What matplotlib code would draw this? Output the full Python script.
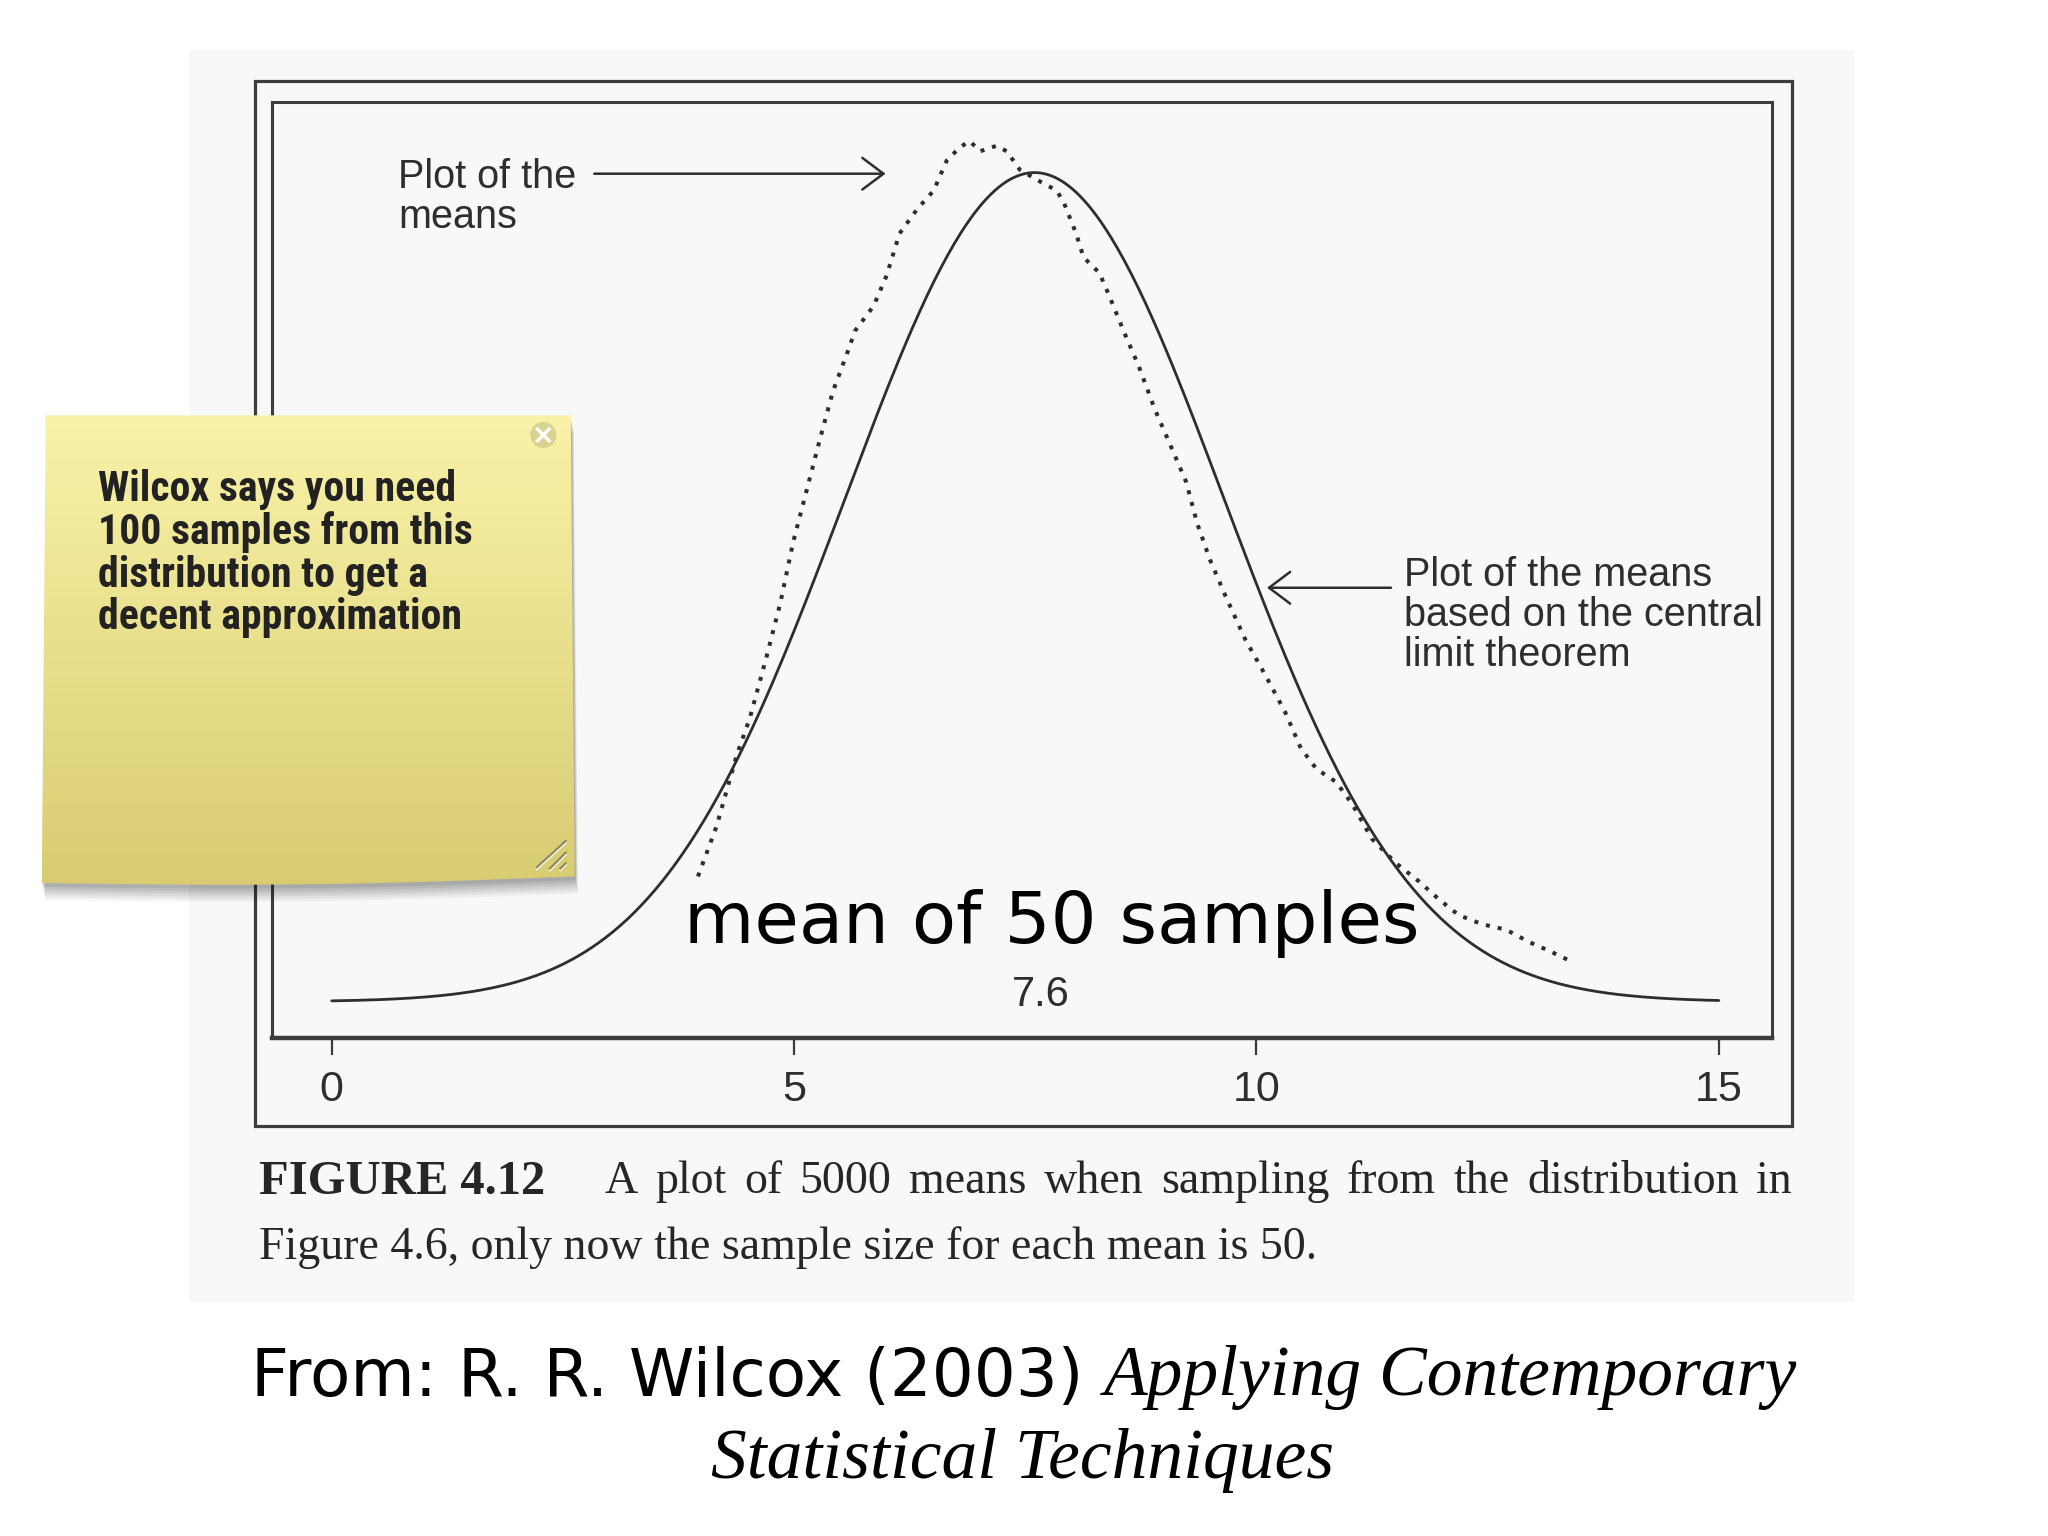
import numpy as np
import matplotlib.pyplot as plt
from matplotlib import font_manager
from matplotlib.patches import Rectangle, Polygon, Circle

# dotted curve: plot of the 5000 simulated means
mean_x = [3.96, 4.16, 4.38, 4.52, 4.70, 4.85, 4.99, 5.14, 5.28, 5.42,
          5.57, 5.66, 5.86, 6.00, 6.14, 6.33, 6.51, 6.65, 6.79, 6.90,
          7.01, 7.19, 7.30, 7.44, 7.66, 7.84, 7.92, 8.05, 8.13, 8.30,
          8.40, 8.56, 8.73, 8.90, 9.07, 9.24, 9.36, 9.50, 9.67, 9.88,
          10.10, 10.31, 10.48, 10.65, 10.86, 11.03, 11.25, 11.51, 11.76, 11.98,
          12.19, 12.44, 12.70, 12.96, 13.18, 13.39]
mean_y = [0.0294, 0.0411, 0.0579, 0.0665, 0.0808, 0.0935, 0.1079, 0.1204, 0.1321, 0.1433,
          0.1520, 0.1575, 0.1633, 0.1704, 0.1803, 0.1860, 0.1904, 0.1974, 0.2005, 0.2020,
          0.1996, 0.2009, 0.1996, 0.1953, 0.1925, 0.1904, 0.1874, 0.1803, 0.1747, 0.1711,
          0.1661, 0.1576, 0.1490, 0.1391, 0.1306, 0.1220, 0.1122, 0.1036, 0.0950, 0.0850,
          0.0765, 0.0680, 0.0595, 0.0546, 0.0516, 0.0466, 0.0382, 0.0325, 0.0282, 0.0239,
          0.0203, 0.0182, 0.0169, 0.0139, 0.0118, 0.0096]

# solid curve: normal curve from the central limit theorem
clt_mean = 7.6
clt_sd = 2.05
x_ticks = [0, 5, 10, 15]

note_lines = ["Wilcox says you need", "100 samples from this",
              "distribution to get a", "decent approximation"]
caption_1 = "A plot of 5000 means when sampling from the distribution in"
caption_2 = "Figure 4.6, only now the sample size for each mean is 50."

SANS = ['Liberation Sans', 'DejaVu Sans']
SERIF = ['Liberation Serif', 'DejaVu Serif']
INK = '#2e2e2e'

installed = {f.name for f in font_manager.fontManager.ttflist}
note_font = 'Liberation Sans'
for cand in ['Liberation Sans Narrow', 'Roboto Condensed', 'Open Sans Condensed', 'DejaVu Sans Condensed']:
    if cand in installed:
        note_font = cand
        break

fig = plt.figure(figsize=(20.48, 15.36), dpi=100)
fig.patch.set_facecolor('white')
renderer = fig.canvas.get_renderer()
SC = 2048 / 1568  # output pixels per reference-layout unit

# background layer, coordinates in reference pixels (1568 x 1176)
back = fig.add_axes([0, 0, 1, 1], zorder=0)
back.set_xlim(0, 1568)
back.set_ylim(1176, 0)
back.axis('off')
back.add_patch(Rectangle((145, 38), 1275, 959, facecolor='#f8f8f8', edgecolor='none'))
back.add_patch(Rectangle((195, 62), 1177, 800, facecolor='none', edgecolor='#3c3c3c', lw=2.3))

# the plot itself
ax = fig.add_axes([208 / 1568, 1 - 795 / 1176, (1357 - 208) / 1568, (795 - 78) / 1176], zorder=1)
ax.set_facecolor('none')
ax.set_xlim(-0.65, 15.58)
ax.set_ylim(-0.0086, 0.2112)

xs = np.linspace(0, 15, 400)
clt_y = np.exp(-0.5 * ((xs - clt_mean) / clt_sd) ** 2) / (clt_sd * np.sqrt(2 * np.pi))
ax.plot(xs, clt_y, color=INK, lw=2.0, solid_capstyle='round')
ax.plot(mean_x, mean_y, color=INK, lw=2.9, linestyle=(0, (1, 2.0)))

for s in ax.spines.values():
    s.set_color('#3c3c3c')
    s.set_linewidth(2.2)
ax.spines['bottom'].set_linewidth(3.2)
ax.set_xticks(x_ticks)
ax.set_xticklabels([str(t) for t in x_ticks])
ax.set_yticks([])
ax.tick_params(axis='x', direction='out', length=12, width=1.6, color='#3c3c3c',
               pad=11, labelsize=31, labelcolor=INK)
for lab in ax.get_xticklabels():
    lab.set_family(SANS)

# overlay layer for annotations and the sticky note
top = fig.add_axes([0, 0, 1, 1], zorder=2)
top.set_facecolor('none')
top.set_xlim(0, 1568)
top.set_ylim(1176, 0)
top.axis('off')

arrow = dict(arrowstyle='->,head_length=0.4,head_width=0.3', lw=1.8, color=INK,
             mutation_scale=38, shrinkA=0, shrinkB=0)
top.text(305, 151, "Plot of the\nmeans", family=SANS, fontsize=28.5, color=INK,
         va='center', ha='left', linespacing=1.07)
top.annotate('', xy=(678, 133), xytext=(455, 133), arrowprops=arrow)
top.text(1075, 471, "Plot of the means\nbased on the central\nlimit theorem", family=SANS,
         fontsize=28.5, color=INK, va='center', ha='left', linespacing=1.07)
top.annotate('', xy=(970, 450), xytext=(1065, 450), arrowprops=arrow)
top.text(797, 762, "7.6", family=SANS, fontsize=30, color=INK, ha='center', va='center')

top.text(805, 722, "mean of 50 samples", family=['DejaVu Sans'], fontsize=52,
         color='black', ha='center', va='baseline')

# caption, first line justified between the label and the right frame edge
top.text(198, 905, "FIGURE 4.12", family=SERIF, fontweight='bold', fontsize=35,
         color='#262626', ha='left', va='center')
words = caption_1.split()
w_txt = [top.text(0, 905, w, family=SERIF, fontsize=33, color='#262626', ha='left', va='center')
         for w in words]
widths = [t.get_window_extent(renderer).width / SC for t in w_txt]
gap = ((1372 - 463) - sum(widths)) / (len(words) - 1)
xpos = 463
for t, w in zip(w_txt, widths):
    t.set_x(xpos)
    xpos += w + gap
top.text(198, 955, caption_2, family=SERIF, fontsize=33, color='#262626', ha='left', va='center')

# source line
top.text(192, 1055, "From: R. R. Wilcox (2003)", family=['DejaVu Sans'], fontsize=47.5,
         color='black', ha='left', va='center')
top.text(845, 1055, "Applying Contemporary", family=SERIF, style='italic', fontsize=51.5,
         color='black', ha='left', va='center')
top.text(783, 1118, "Statistical Techniques", family=SERIF, style='italic', fontsize=51.5,
         color='black', ha='center', va='center')

# sticky note
bx = np.linspace(32, 440, 40)
bottom_edge = 676 + 3.5 * np.sin(np.pi * (bx - 32) / 408) - 5 * (bx - 32) / 408
note_pts = [(437, 318), (440, bottom_edge[-1])] + list(zip(bx[::-1], bottom_edge[::-1])) + [(35, 318)]

for i, a in enumerate([0.045, 0.05, 0.055, 0.06, 0.07, 0.08]):
    off = 13 - 2 * i
    shadow = [(x + off * 0.2, y + off) for x, y in note_pts]
    top.add_patch(Polygon(shadow, closed=True, facecolor='black', edgecolor='none', alpha=a))

note = Polygon(note_pts, closed=True, facecolor='none', edgecolor='none')
top.add_patch(note)
grad = np.linspace(0, 1, 256)[:, None]
c_top = np.array([249, 242, 168]) / 255
c_bot = np.array([216, 204, 113]) / 255
img = (c_top[None, None, :] * (1 - grad[..., None]) + c_bot[None, None, :] * grad[..., None])
im = top.imshow(img, extent=(32, 440, 682, 318), origin='upper', aspect='auto',
                interpolation='bilinear', zorder=3)
im.set_clip_path(note)
top.set_xlim(0, 1568)
top.set_ylim(1176, 0)

top.add_patch(Circle((416, 333), 10, facecolor='#d9d391', edgecolor='none', zorder=4))
top.plot([411.5, 420.5], [328.5, 337.5], color='white', lw=2.4, zorder=5)
top.plot([411.5, 420.5], [337.5, 328.5], color='white', lw=2.4, zorder=5)

for (x0, y0, x1, y1) in [(411, 664, 433, 644), (421, 665, 433, 653), (429, 665, 433, 661)]:
    top.plot([x0, x1], [y0 + 1.2, y1 + 1.2], color='white', lw=1.6, zorder=5)
    top.plot([x0, x1], [y0, y1], color='#8f8a60', lw=1.6, zorder=5)

# fit the note text so its widest line spans the same width as in the reference
probe = top.text(0, 0, note_lines[1], family=[note_font, 'DejaVu Sans'], fontweight='bold',
                 fontsize=30)
pw = probe.get_window_extent(renderer).width / SC
probe.remove()
note_size = 30 * 287 / pw
line_gap_px = 33.5 * SC
note_ls = line_gap_px / (note_size * 100 / 72)
top.text(75, 359, "\n".join(note_lines), family=[note_font, 'DejaVu Sans'],
         fontweight='bold', fontsize=note_size, color='#222222', ha='left', va='top',
         linespacing=note_ls, zorder=6)

fig.savefig('out.png', dpi=100)
